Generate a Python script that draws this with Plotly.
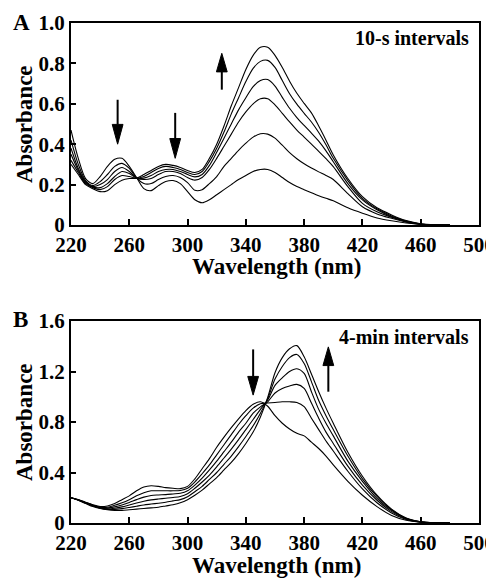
import plotly.graph_objects as go

# ---------------- data ----------------
WL = [220, 225, 230, 235, 240, 245, 250, 255, 260, 265, 270, 275, 280, 285, 290,
      295, 300, 305, 310, 315, 320, 325, 330, 335, 340, 345, 350, 355, 360, 365,
      370, 375, 380, 385, 390, 395, 400, 410, 420, 430, 440, 450, 460, 470, 480]

# Panel A: 10-s intervals (6 spectra)
A1 = [0.47, 0.33, 0.23, 0.205, 0.24, 0.29, 0.325, 0.33, 0.29, 0.235, 0.18, 0.17, 0.195, 0.215, 0.22,
      0.205, 0.165, 0.125, 0.11, 0.125, 0.15, 0.175, 0.2, 0.225, 0.245, 0.265, 0.275, 0.275, 0.26, 0.235,
      0.21, 0.19, 0.175, 0.16, 0.145, 0.132, 0.12, 0.085, 0.058, 0.035, 0.021, 0.01, 0.003, 0.001, 0.0]
A2 = [0.42, 0.30, 0.22, 0.195, 0.215, 0.25, 0.29, 0.305, 0.28, 0.233, 0.205, 0.205, 0.225, 0.24, 0.245,
      0.235, 0.21, 0.172, 0.175, 0.205, 0.24, 0.29, 0.33, 0.37, 0.405, 0.435, 0.452, 0.45, 0.43, 0.395,
      0.358, 0.328, 0.303, 0.282, 0.263, 0.245, 0.225, 0.155, 0.09, 0.055, 0.033, 0.014, 0.004, 0.001, 0.0]
A3 = [0.38, 0.28, 0.215, 0.19, 0.20, 0.225, 0.265, 0.285, 0.265, 0.232, 0.225, 0.23, 0.25, 0.265, 0.265,
      0.255, 0.235, 0.222, 0.235, 0.275, 0.33, 0.39, 0.45, 0.51, 0.56, 0.60, 0.625, 0.625, 0.595, 0.553,
      0.51, 0.47, 0.435, 0.40, 0.365, 0.328, 0.289, 0.19, 0.107, 0.065, 0.038, 0.016, 0.004, 0.001, 0.0]
A4 = [0.35, 0.27, 0.21, 0.188, 0.185, 0.205, 0.24, 0.265, 0.255, 0.232, 0.232, 0.245, 0.265, 0.275, 0.275,
      0.265, 0.25, 0.238, 0.25, 0.295, 0.36, 0.43, 0.50, 0.57, 0.63, 0.685, 0.715, 0.72, 0.688, 0.632,
      0.578, 0.532, 0.493, 0.455, 0.415, 0.367, 0.313, 0.205, 0.124, 0.075, 0.041, 0.018, 0.005, 0.001, 0.0]
A5 = [0.32, 0.26, 0.205, 0.185, 0.175, 0.19, 0.225, 0.245, 0.24, 0.232, 0.24, 0.26, 0.28, 0.29, 0.285,
      0.275, 0.26, 0.25, 0.265, 0.315, 0.38, 0.46, 0.55, 0.63, 0.71, 0.775, 0.81, 0.815, 0.78, 0.715,
      0.65, 0.598, 0.553, 0.51, 0.458, 0.397, 0.33, 0.22, 0.132, 0.08, 0.045, 0.02, 0.005, 0.001, 0.0]
A6 = [0.30, 0.25, 0.20, 0.18, 0.165, 0.17, 0.20, 0.222, 0.23, 0.232, 0.25, 0.27, 0.29, 0.30, 0.295,
      0.285, 0.27, 0.26, 0.275, 0.33, 0.40, 0.49, 0.59, 0.68, 0.77, 0.84, 0.88, 0.88, 0.84, 0.78,
      0.712, 0.652, 0.602, 0.555, 0.49, 0.42, 0.347, 0.23, 0.14, 0.085, 0.05, 0.022, 0.006, 0.001, 0.0]

# Panel B: 4-min intervals (6 spectra)
B1 = [0.20, 0.185, 0.165, 0.145, 0.13, 0.135, 0.155, 0.185, 0.215, 0.255, 0.285, 0.295, 0.29, 0.28, 0.275,
      0.272, 0.29, 0.35, 0.43, 0.51, 0.60, 0.68, 0.755, 0.825, 0.89, 0.94, 0.96, 0.925, 0.85, 0.79,
      0.745, 0.71, 0.69, 0.64, 0.59, 0.53, 0.46, 0.33, 0.22, 0.13, 0.06, 0.022, 0.006, 0.001, 0.0]
B2 = [0.20, 0.184, 0.163, 0.142, 0.126, 0.125, 0.14, 0.16, 0.185, 0.215, 0.24, 0.255, 0.255, 0.255, 0.255,
      0.258, 0.275, 0.325, 0.39, 0.46, 0.54, 0.62, 0.70, 0.78, 0.85, 0.91, 0.945, 0.95, 0.955, 0.96,
      0.96, 0.955, 0.921, 0.83, 0.74, 0.65, 0.57, 0.41, 0.27, 0.16, 0.08, 0.028, 0.007, 0.001, 0.0]
B3 = [0.20, 0.183, 0.16, 0.14, 0.123, 0.118, 0.128, 0.143, 0.163, 0.185, 0.205, 0.218, 0.222, 0.225, 0.23,
      0.235, 0.255, 0.30, 0.355, 0.42, 0.49, 0.565, 0.64, 0.72, 0.79, 0.87, 0.92, 0.96, 1.03, 1.065,
      1.085, 1.098, 1.066, 0.95, 0.83, 0.72, 0.63, 0.45, 0.30, 0.18, 0.09, 0.032, 0.008, 0.001, 0.0]
B4 = [0.20, 0.182, 0.158, 0.137, 0.12, 0.112, 0.117, 0.128, 0.143, 0.158, 0.172, 0.183, 0.19, 0.196, 0.202,
      0.21, 0.232, 0.275, 0.325, 0.38, 0.445, 0.515, 0.585, 0.66, 0.74, 0.82, 0.90, 0.974, 1.09, 1.15,
      1.20, 1.222, 1.185, 1.04, 0.90, 0.79, 0.69, 0.49, 0.33, 0.195, 0.10, 0.035, 0.009, 0.001, 0.0]
B5 = [0.20, 0.181, 0.156, 0.134, 0.117, 0.108, 0.108, 0.114, 0.123, 0.133, 0.143, 0.15, 0.157, 0.165, 0.175,
      0.185, 0.208, 0.248, 0.29, 0.345, 0.40, 0.465, 0.53, 0.605, 0.685, 0.77, 0.87, 0.985, 1.14, 1.24,
      1.31, 1.335, 1.264, 1.12, 0.97, 0.85, 0.74, 0.53, 0.35, 0.21, 0.105, 0.038, 0.01, 0.002, 0.0]
B6 = [0.20, 0.18, 0.155, 0.13, 0.115, 0.105, 0.10, 0.10, 0.105, 0.11, 0.115, 0.12, 0.125, 0.135, 0.145,
      0.16, 0.185, 0.22, 0.26, 0.31, 0.36, 0.42, 0.48, 0.55, 0.63, 0.72, 0.84, 0.995, 1.19, 1.31,
      1.38, 1.405, 1.316, 1.18, 1.04, 0.91, 0.79, 0.56, 0.37, 0.22, 0.11, 0.04, 0.01, 0.002, 0.0]

SERIES_A = [A1, A2, A3, A4, A5, A6]
SERIES_B = [B1, B2, B3, B4, B5, B6]

X_TICKS = [220, 260, 300, 340, 380, 420, 460, 500]
X_TEXT = ["220", "260", "300", "340", "380", "420", "460", "500"]
YA_TICKS = [0, 0.2, 0.4, 0.6, 0.8, 1.0]
YA_TEXT = ["0", "0.2", "0.4", "0.6", "0.8", "1.0"]
YB_TICKS = [0, 0.4, 0.8, 1.2, 1.6]
YB_TEXT = ["0", "0.4", "0.8", "1.2", "1.6"]

# arrows: (axis suffix, x nm, tail y, tip y, head length in y units)
ARROWS = [("", 252, 0.62, 0.40, 0.098),
          ("", 291.5, 0.555, 0.33, 0.098),
          ("", 323.5, 0.67, 0.85, 0.092),
          ("2", 345, 1.375, 1.013, 0.148),
          ("2", 396.6, 1.04, 1.395, 0.148)]

FONT = "Liberation Serif"

fig = go.Figure()
for s in SERIES_A:
    fig.add_trace(go.Scatter(x=WL, y=s, mode="lines", xaxis="x", yaxis="y",
                             line=dict(color="black", width=1.1, shape="spline", smoothing=0.8),
                             showlegend=False, hoverinfo="skip"))
for s in SERIES_B:
    fig.add_trace(go.Scatter(x=WL, y=s, mode="lines", xaxis="x2", yaxis="y2",
                             line=dict(color="black", width=1.1, shape="spline", smoothing=0.8),
                             showlegend=False, hoverinfo="skip"))

# page body has an 8px margin: figure is placed at (8, 8) in the window
OFF = 8
W, H = 494 - OFF, 579 - OFF
# target positions in window pixels
xl, xr = 71, 479
A_top, A_bot = 23, 225
B_top, B_bot = 321, 523

def px(x):
    return (x - OFF) / W

def py(y):
    return 1 - (y - OFF) / H

def xdom():
    return [px(xl), px(xr)]

def ydom(top, bot):
    return [py(bot), py(top)]

tickfont = dict(family=FONT, size=21, color="black", weight="bold")
common_x = dict(range=[220, 500], tickmode="array", tickvals=X_TICKS, ticktext=X_TEXT,
                ticks="inside", ticklen=6, tickwidth=2,
                tickcolor="black", showline=True, linecolor="black", linewidth=2, mirror=True,
                showgrid=False, zeroline=False, tickfont=tickfont, domain=xdom(),
                automargin=False, ticklabeloverflow="allow")
common_y = dict(ticks="inside", ticklen=5, tickwidth=2, tickcolor="black", showline=True,
                linecolor="black", linewidth=2, mirror=True, showgrid=False, zeroline=False,
                tickfont=tickfont, automargin=False, tickmode="array",
                ticklabeloverflow="allow")

shapes = []
for suf, x, y0, y1, hl in ARROWS:
    xr_, yr_ = "x" + suf, "y" + suf
    direction = 1 if y1 > y0 else -1
    base = y1 - direction * hl
    shapes.append(dict(type="line", xref=xr_, yref=yr_, x0=x, x1=x, y0=y0, y1=base,
                       line=dict(color="black", width=2)))
    hw = 3.7
    shapes.append(dict(type="path", xref=xr_, yref=yr_,
                       path=f"M {x-hw},{base} L {x+hw},{base} L {x},{y1} Z",
                       fillcolor="black", line=dict(color="black", width=1)))

def ann(text, x, y, size, xanchor="center", yanchor="middle", angle=0):
    return dict(text=f"<b>{text}</b>", x=px(x), y=py(y), xref="paper", yref="paper",
                xanchor=xanchor, yanchor=yanchor, showarrow=False, textangle=angle,
                font=dict(family=FONT, size=size, color="black"))

annotations = [
    ann("A", 11, 22, 23, xanchor="left"),
    ann("B", 11, 320, 23, xanchor="left"),
    ann("10-s intervals", 471, 38, 20, xanchor="right"),
    ann("4-min intervals", 471, 337, 20, xanchor="right"),
    ann("Absorbance", 24, 124, 23, angle=-90),
    ann("Absorbance", 24, 422, 23, angle=-90),
    ann("Wavelength (nm)", 276, 266, 23),
    ann("Wavelength (nm)", 276, 565, 23),
]

fig.update_layout(
    width=W, height=H, autosize=False,
    margin=dict(l=0, r=0, t=0, b=0, pad=0, autoexpand=False),
    paper_bgcolor="white", plot_bgcolor="white",
    xaxis=dict(common_x, anchor="y"),
    yaxis=dict(common_y, range=[0, 1.0], tickvals=YA_TICKS, ticktext=YA_TEXT,
               domain=ydom(A_top, A_bot), anchor="x"),
    xaxis2=dict(common_x, anchor="y2"),
    yaxis2=dict(common_y, range=[0, 1.6], tickvals=YB_TICKS, ticktext=YB_TEXT,
                domain=ydom(B_top, B_bot), anchor="x2"),
    shapes=shapes,
    annotations=annotations,
    showlegend=False,
)

fig.write_html("out.html")
